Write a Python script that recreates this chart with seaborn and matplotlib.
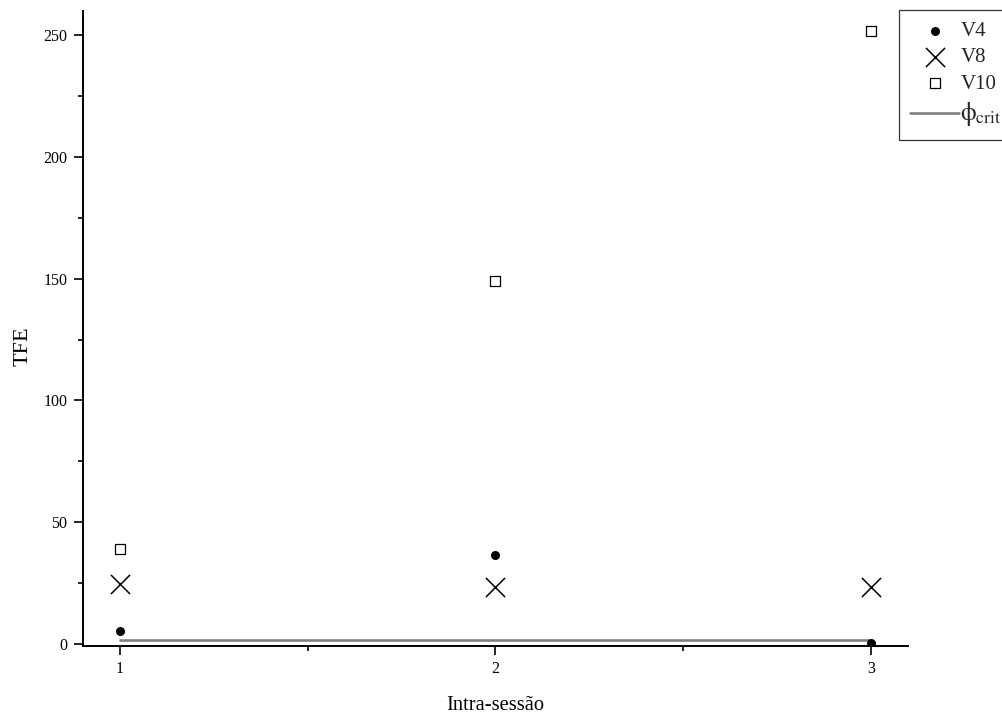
import matplotlib
matplotlib.use("Agg")
import matplotlib.pyplot as plt
import seaborn as sns
import pandas as pd
from matplotlib.ticker import MultipleLocator

sessions = [1, 2, 3]
v4 = [5.5, 36.5, 0.5]
v8 = [24.6, 23.5, 23.5]
v10 = [39.1, 149.0, 251.5]
phi_crit = [1.8, 1.8, 1.8]
xlabel = "Intra-sessão"
ylabel = "TFE"

sns.set_theme(style="ticks")
plt.rcParams["font.family"] = ["Liberation Serif", "DejaVu Serif"]
plt.rcParams["mathtext.fontset"] = "stix"

fig = plt.figure(figsize=(10.03, 7.15), dpi=100)
ax = fig.add_axes([82.5 / 1003, 1 - 645.7 / 715, (908.3 - 82.5) / 1003, (645.7 - 10.7) / 715])

df_phi = pd.DataFrame({"x": sessions, "y": phi_crit})
sns.lineplot(data=df_phi, x="x", y="y", ax=ax, color="#808080", linewidth=1.9,
             label=r"$\mathrm{\phi}_{\mathrm{crit}}$", zorder=1)

df4 = pd.DataFrame({"x": sessions, "y": v4})
df8 = pd.DataFrame({"x": sessions, "y": v8})
df10 = pd.DataFrame({"x": sessions, "y": v10})
sns.scatterplot(data=df4, x="x", y="y", ax=ax, marker="o", s=42, color="black",
                edgecolor="black", linewidth=0, label="V4", zorder=3)
sns.scatterplot(data=df8, x="x", y="y", ax=ax, marker="x", s=190, color="black",
                linewidth=1.1, label="V8", zorder=3)
sns.scatterplot(data=df10, x="x", y="y", ax=ax, marker="s", s=52, facecolor="white",
                edgecolor="black", linewidth=0.9, label="V10", zorder=3)

ax.set_xlim(0.9, 3.1)
ax.set_ylim(-0.7, 260)
ax.xaxis.set_major_locator(MultipleLocator(1))
ax.xaxis.set_minor_locator(MultipleLocator(0.5))
ax.yaxis.set_major_locator(MultipleLocator(50))
ax.yaxis.set_minor_locator(MultipleLocator(25))
ax.tick_params(which="major", direction="out", length=6.5, width=1.2, labelsize=11.5,
               color="black", labelcolor="black", pad=4.5)
ax.tick_params(which="minor", direction="out", length=3.5, width=1.2, color="black")
for side in ["top", "right"]:
    ax.spines[side].set_visible(False)
for side in ["left", "bottom"]:
    ax.spines[side].set_linewidth(1.4)
    ax.spines[side].set_color("black")

ax.set_xlabel(xlabel, fontsize=14.8, color="black")
ax.set_ylabel(ylabel, fontsize=16, color="black")
ax.xaxis.set_label_coords(0.5, -0.079)
ax.yaxis.set_label_coords(-0.060, 0.472)

handles, labels = ax.get_legend_handles_labels()
order = [labels.index(l) for l in ["V4", "V8", "V10"]] + [0]
leg = ax.legend([handles[i] for i in order], [labels[i] for i in order],
                loc="upper left", bbox_to_anchor=(899 / 1003, 1 - 10 / 715),
                bbox_transform=fig.transFigure, borderaxespad=0, frameon=True,
                fancybox=False, edgecolor="black", fontsize=15, handlelength=2.35,
                handletextpad=0.05, labelspacing=0.32, borderpad=0.55)
leg.get_frame().set_linewidth(0.9)
leg.get_texts()[3].set_fontsize(18)

fig.savefig("out.png", dpi=100)
